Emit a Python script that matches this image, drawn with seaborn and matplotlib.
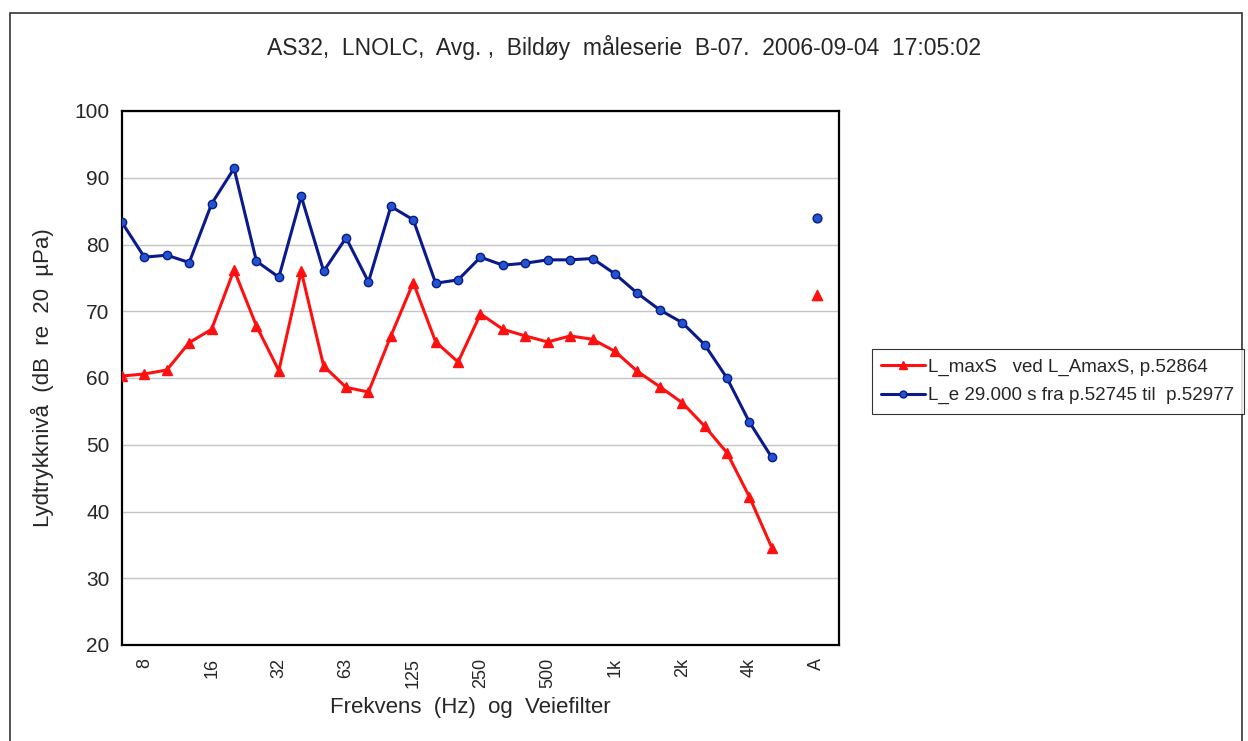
import numpy as np
import pandas as pd
import matplotlib
matplotlib.use("Agg")
import matplotlib.pyplot as plt
from matplotlib.lines import Line2D
from matplotlib.patches import Rectangle
from matplotlib.ticker import MultipleLocator
import seaborn as sns

# ---- data ----
bands = ["6.3", "8", "10", "12.5", "16", "20", "25", "31.5", "40", "50",
         "63", "80", "100", "125", "160", "200", "250", "315", "400", "500",
         "630", "800", "1k", "1.25k", "1.6k", "2k", "2.5k", "3.15k", "4k", "5k"]
categories = bands + ["", "A", ""]
tick_labels = ["8", "16", "32", "63", "125", "250", "500", "1k", "2k", "4k", "A"]
tick_cats = ["8", "16", "31.5", "63", "125", "250", "500", "1k", "2k", "4k", "A"]

l_e = [83.3, 78.1, 78.4, 77.3, 86.1, 91.4, 77.5, 75.1, 87.2, 76.0,
       81.0, 74.4, 85.7, 83.7, 74.2, 74.7, 78.1, 76.9, 77.2, 77.7,
       77.7, 77.9, 75.6, 72.7, 70.2, 68.3, 65.0, 60.0, 53.4, 48.1]
l_max = [60.3, 60.6, 61.2, 65.3, 67.3, 76.2, 67.8, 61.1, 76.0, 61.8,
         58.6, 57.9, 66.3, 74.3, 65.4, 62.4, 69.6, 67.3, 66.3, 65.4,
         66.3, 65.8, 64.0, 61.0, 58.7, 56.3, 52.8, 48.8, 42.2, 34.6]
a_weighted = {"L_max": 72.4, "L_e": 83.9}

series_names = ["L_maxS   ved L_AmaxS, p.52864",
                "L_e 29.000 s fra p.52745 til  p.52977"]

title = "AS32,  LNOLC,  Avg. ,  Bildøy  måleserie  B-07.  2006-09-04  17:05:02"
xlabel = "Frekvens  (Hz)  og  Veiefilter"
ylabel = "Lydtrykknivå  (dB  re  20  µPa)"

# ---- styling ----
sns.set_style("white")
plt.rcParams["font.family"] = ["Liberation Sans", "DejaVu Sans"]

RED = "#FF1010"
BLUE_LINE = "#0A1A8C"
BLUE_FILL = "#2255CC"

band_pos = [categories.index(b) for b in bands]
a_pos = categories.index("A")

df = pd.DataFrame({
    "pos": band_pos * 2,
    "value": l_max + l_e,
    "series": ["max"] * len(bands) + ["e"] * len(bands),
})

fig = plt.figure(figsize=(12.48, 7.41), dpi=100)
ax = fig.add_axes([122 / 1248, 1 - 645 / 741, (839 - 122) / 1248, (645 - 111) / 741])

sns.lineplot(data=df[df.series == "e"], x="pos", y="value", ax=ax,
             color=BLUE_LINE, lw=2.2, marker="o", markersize=6,
             markerfacecolor=BLUE_FILL, markeredgecolor=BLUE_LINE,
             markeredgewidth=1.0, legend=False, zorder=3)
sns.lineplot(data=df[df.series == "max"], x="pos", y="value", ax=ax,
             color=RED, lw=2.2, marker="^", markersize=7,
             markerfacecolor=RED, markeredgecolor=RED,
             markeredgewidth=1.0, legend=False, zorder=4)

sns.scatterplot(x=[a_pos], y=[a_weighted["L_e"]], ax=ax, marker="o", s=40,
                color=BLUE_FILL, edgecolor=BLUE_LINE, linewidth=1.0, zorder=3)
sns.scatterplot(x=[a_pos], y=[a_weighted["L_max"]], ax=ax, marker="^", s=55,
                color=RED, edgecolor=RED, linewidth=1.0, zorder=4)

ax.set_xlim(0, len(categories) - 1)
ax.set_ylim(20, 100)
ax.yaxis.set_major_locator(MultipleLocator(10))
ax.yaxis.set_minor_locator(MultipleLocator(5))
ax.set_xticks(range(len(categories)), minor=True)
ax.set_xticks([categories.index(c) for c in tick_cats])
ax.set_xticklabels(tick_labels, rotation=90, fontsize=13)
ax.tick_params(axis="y", which="major", direction="out", length=5, width=1,
               labelsize=15, pad=4, color="black")
ax.tick_params(axis="y", which="minor", direction="in", length=3, width=1,
               color="#555555")
ax.tick_params(axis="x", which="both", direction="out", length=5, width=1,
               color="black", pad=4)

ax.grid(axis="y", which="major", color="#C4C4C4", lw=1.0, ls="-")
ax.set_axisbelow(True)
for sp in ax.spines.values():
    sp.set_visible(True)
    sp.set_color("black")
    sp.set_linewidth(1.6)

ax.set_xlabel(xlabel, fontsize=16)
ax.xaxis.set_label_coords((470 - 122) / 717, (645 - 697) / 534)
ax.xaxis.label.set_va("top")
ax.set_ylabel(ylabel, fontsize=16)
ax.yaxis.set_label_coords((42 - 122) / 717, 0.5)
ax.yaxis.label.set_va("center")

fig.text(624 / 1248, 1 - 47 / 741, title, ha="center", va="center", fontsize=16.5)

handles = [
    Line2D([], [], color=RED, lw=2.2, marker="^", markersize=6,
           markerfacecolor=RED, markeredgecolor=RED),
    Line2D([], [], color=BLUE_LINE, lw=2.2, marker="o", markersize=5,
           markerfacecolor=BLUE_FILL, markeredgecolor=BLUE_LINE),
]
leg = fig.legend(handles, series_names, loc="upper left",
                 bbox_to_anchor=(872 / 1248, 1 - 349 / 741),
                 frameon=True, fancybox=False, fontsize=13.5,
                 handlelength=2.3, handletextpad=0.2, borderpad=0.5,
                 labelspacing=0.6, borderaxespad=0)
leg.get_frame().set_edgecolor("black")
leg.get_frame().set_linewidth(0.8)

fig.patches.append(Rectangle((10 / 1248, -0.02), (1242 - 10) / 1248, 1.02 - 13 / 741,
                             transform=fig.transFigure, fill=False,
                             edgecolor="#333333", lw=1.2))

fig.savefig("out.png", dpi=100)
